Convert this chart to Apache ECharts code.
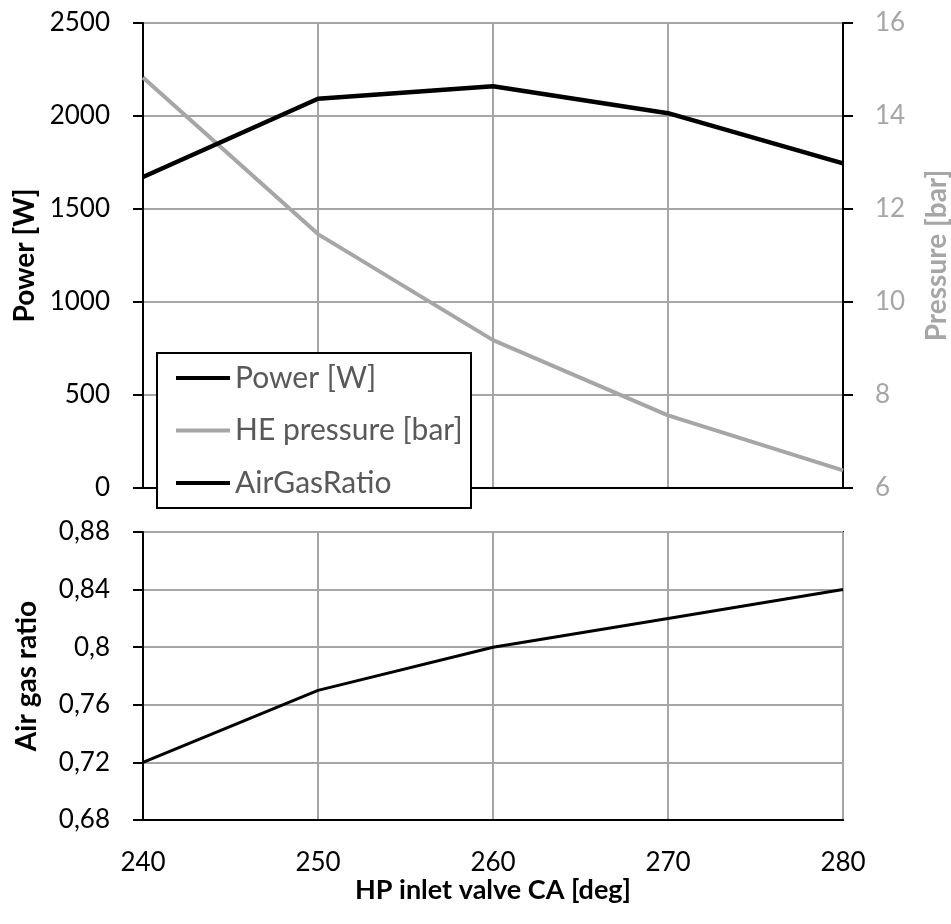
<!DOCTYPE html>
<html>
<head>
<meta charset="utf-8">
<script src="https://cdn.jsdelivr.net/npm/echarts@6/dist/echarts.min.js"></script>
<style>
html,body{margin:0;padding:0;background:#fff;}
#chart{width:951px;height:924px;}
</style>
</head>
<body>
<div id="chart"></div>
<script>
const xValues = [240, 250, 260, 270, 280];
const power = [1672, 2093, 2160, 2015, 1745];
const pressure = [14.83, 11.46, 9.18, 7.56, 6.38];
const airGasRatio = [0.72, 0.77, 0.80, 0.82, 0.84];
const seriesNames = ['Power [W]', 'HE pressure [bar]', 'AirGasRatio'];

const FONT = 'Lato';
const GRAY = '#A6A6A6';
const pairs = (ys) => xValues.map((x, i) => [x, ys[i]]);

const chart = echarts.init(document.getElementById('chart'), null, {renderer: 'canvas'});

const baseX = {
  type: 'value', min: 240, max: 280, interval: 10,
  axisLine: {show: true, onZero: false, lineStyle: {color: '#000', width: 2}},
  axisTick: {show: false},
  splitLine: {show: true, lineStyle: {color: GRAY, width: 2}}
};
const baseY = {
  type: 'value',
  axisLine: {show: true, onZero: false, lineStyle: {color: '#000', width: 2}},
  axisTick: {show: true, inside: false, length: 10, lineStyle: {color: '#000', width: 2}},
  splitLine: {show: true, lineStyle: {color: GRAY, width: 2}},
  nameLocation: 'middle', nameRotate: 90
};

chart.setOption({
  animation: false,
  backgroundColor: '#fff',
  textStyle: {fontFamily: FONT},
  grid: [
    {left: 143, top: 23, width: 700, height: 465, containLabel: false, outerBoundsMode: 'none',
     show: true, borderColor: '#000', borderWidth: 2, backgroundColor: 'transparent'},
    {left: 143, top: 532, width: 700, height: 288, containLabel: false, outerBoundsMode: 'none',
     show: true, borderColor: '#000', borderWidth: 2, backgroundColor: 'transparent'}
  ],
  xAxis: [
    Object.assign({}, baseX, {gridIndex: 0, axisLabel: {show: false}}),
    Object.assign({}, baseX, {
      gridIndex: 1,
      axisLabel: {show: true, color: '#000', fontSize: 26, fontFamily: FONT, margin: 30},
      name: 'HP inlet valve CA [deg]', nameLocation: 'middle', nameGap: 55,
      nameTextStyle: {color: '#000', fontSize: 27, fontWeight: 'bold', fontFamily: FONT}
    })
  ],
  yAxis: [
    Object.assign({}, baseY, {
      gridIndex: 0, position: 'left', min: 0, max: 2500, interval: 500,
      axisLabel: {color: '#000', fontSize: 26, fontFamily: FONT, margin: 33, formatter: (v) => String(v)},
      name: 'Power [W]', nameGap: 102,
      nameTextStyle: {color: '#000', fontSize: 28, fontWeight: 'bold', fontFamily: FONT}
    }),
    Object.assign({}, baseY, {
      gridIndex: 0, position: 'right', min: 6, max: 16, interval: 2,
      splitLine: {show: false},
      axisLabel: {color: GRAY, fontSize: 26, fontFamily: FONT, margin: 32, formatter: (v) => String(v)},
      name: 'Pressure [bar]', nameGap: 80,
      nameTextStyle: {color: GRAY, fontSize: 28, fontWeight: 'bold', fontFamily: FONT}
    }),
    Object.assign({}, baseY, {
      gridIndex: 1, position: 'left', min: 0.68, max: 0.88, interval: 0.04,
      axisLabel: {color: '#000', fontSize: 26, fontFamily: FONT, margin: 33,
        formatter: (v) => String(+v.toFixed(2)).replace('.', ',')},
      name: 'Air gas ratio', nameGap: 102,
      nameTextStyle: {color: '#000', fontSize: 28, fontWeight: 'bold', fontFamily: FONT}
    })
  ],
  legend: {
    show: true, orient: 'vertical', left: 176, top: 363, padding: 0, itemGap: 22.5,
    icon: 'rect', itemWidth: 54, itemHeight: 4, itemTextGap: 5,
    z: 60,
    textStyle: {color: '#595959', fontSize: 30, fontFamily: FONT, lineHeight: 30},
    data: seriesNames
  },
  graphic: [{
    type: 'rect', z: 50, silent: true,
    shape: {x: 157, y: 353, width: 314, height: 155},
    style: {fill: '#fff', stroke: '#000', lineWidth: 2}
  }],
  series: [
    {name: seriesNames[0], type: 'line', xAxisIndex: 0, yAxisIndex: 0, data: pairs(power),
     symbol: 'none', color: '#000', lineStyle: {color: '#000', width: 4.5}, itemStyle: {color: '#000'}, z: 5},
    {name: seriesNames[1], type: 'line', xAxisIndex: 0, yAxisIndex: 1, data: pairs(pressure),
     symbol: 'none', color: GRAY, lineStyle: {color: GRAY, width: 4}, itemStyle: {color: GRAY}, z: 4},
    {name: seriesNames[2], type: 'line', xAxisIndex: 1, yAxisIndex: 2, data: pairs(airGasRatio),
     symbol: 'none', color: '#000', lineStyle: {color: '#000', width: 3}, itemStyle: {color: '#000'}, z: 5}
  ]
});
</script>
</body>
</html>
